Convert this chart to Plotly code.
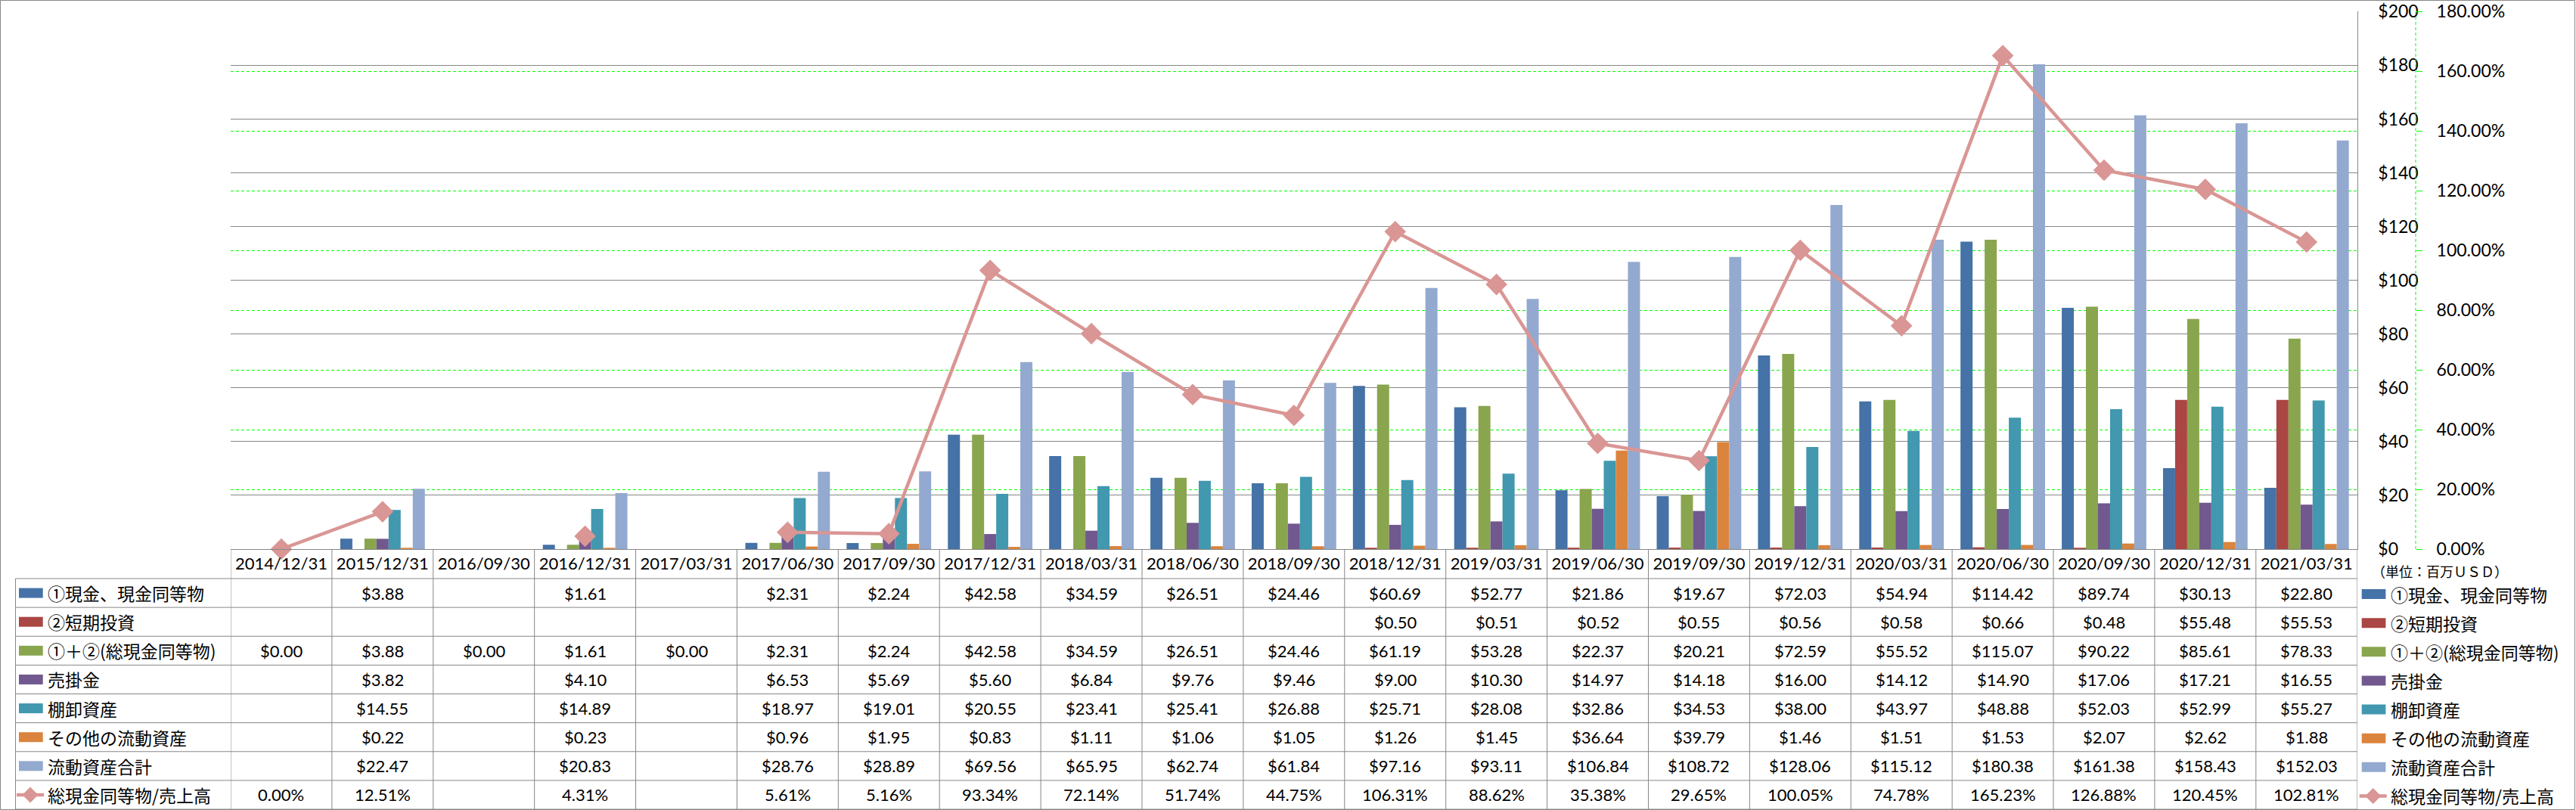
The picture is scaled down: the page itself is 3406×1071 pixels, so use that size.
import plotly.graph_objects as go

W, H = 3406, 1071

dates = ["2014/12/31", "2015/12/31", "2016/09/30", "2016/12/31", "2017/03/31", "2017/06/30",
         "2017/09/30", "2017/12/31", "2018/03/31", "2018/06/30", "2018/09/30", "2018/12/31",
         "2019/03/31", "2019/06/30", "2019/09/30", "2019/12/31", "2020/03/31", "2020/06/30",
         "2020/09/30", "2020/12/31", "2021/03/31"]

cash = [None, 3.88, None, 1.61, None, 2.31, 2.24, 42.58, 34.59, 26.51, 24.46, 60.69, 52.77,
        21.86, 19.67, 72.03, 54.94, 114.42, 89.74, 30.13, 22.80]
short_inv = [None, None, None, None, None, None, None, None, None, None, None, 0.50, 0.51,
             0.52, 0.55, 0.56, 0.58, 0.66, 0.48, 55.48, 55.53]
total_cash = [0.00, 3.88, 0.00, 1.61, 0.00, 2.31, 2.24, 42.58, 34.59, 26.51, 24.46, 61.19, 53.28,
              22.37, 20.21, 72.59, 55.52, 115.07, 90.22, 85.61, 78.33]
receivables = [None, 3.82, None, 4.10, None, 6.53, 5.69, 5.60, 6.84, 9.76, 9.46, 9.00, 10.30,
               14.97, 14.18, 16.00, 14.12, 14.90, 17.06, 17.21, 16.55]
inventory = [None, 14.55, None, 14.89, None, 18.97, 19.01, 20.55, 23.41, 25.41, 26.88, 25.71, 28.08,
             32.86, 34.53, 38.00, 43.97, 48.88, 52.03, 52.99, 55.27]
other_ca = [None, 0.22, None, 0.23, None, 0.96, 1.95, 0.83, 1.11, 1.06, 1.05, 1.26, 1.45,
            36.64, 39.79, 1.46, 1.51, 1.53, 2.07, 2.62, 1.88]
total_ca = [None, 22.47, None, 20.83, None, 28.76, 28.89, 69.56, 65.95, 62.74, 61.84, 97.16, 93.11,
            106.84, 108.72, 128.06, 115.12, 180.38, 161.38, 158.43, 152.03]
ratio_pct = [0.00, 12.51, None, 4.31, None, 5.61, 5.16, 93.34, 72.14, 51.74, 44.75, 106.31, 88.62,
             35.38, 29.65, 100.05, 74.78, 165.23, 126.88, 120.45, 102.81]

bar_names = ["①現金、現金同等物", "②短期投資", "①＋②(総現金同等物)", "売掛金", "棚卸資産",
             "その他の流動資産", "流動資産合計"]
line_name = "総現金同等物/売上高"
bar_series = [cash, short_inv, total_cash, receivables, inventory, other_ca, total_ca]
bar_colors = ["#4572A7", "#AA4643", "#89A54E", "#71588F", "#4198AF", "#DB843D", "#93A9CF"]
line_color = "#D99694"

usd_ticks = list(range(0, 201, 20))
usd_tick_text = ["$" + str(v) for v in usd_ticks]
pct_ticks = [0.0, 0.2, 0.4, 0.6, 0.8, 1.0, 1.2, 1.4, 1.6, 1.8]
unit_label = "（単位：百万ＵＳＤ）"

# ---------------- geometry (pixels) ----------------
PL, PR, PT, PB = 305.0, 3116.7, 15.3, 726.0
Y2_X = 3194.0
ROW_TOP, ROW_H = 765.0, 38.125
TABLE_L = 20.5
GRAY = "#878787"
NUM_FONT = "Lato, Carlito, 'Liberation Sans', sans-serif"
JP_FONT = "'Noto Sans CJK JP', sans-serif"


def px(x):
    return x / W


def py(y):
    return 1 - y / H


fig = go.Figure()
for name, vals, col in zip(bar_names, bar_series, bar_colors):
    fig.add_trace(go.Bar(x=dates, y=vals, name=name, marker=dict(color=col, line=dict(width=0)),
                         yaxis="y"))

fig.add_trace(go.Scatter(
    x=dates, y=[None if v is None else v / 100 for v in ratio_pct], name=line_name,
    yaxis="y2", mode="lines+markers", connectgaps=False, cliponaxis=False,
    line=dict(color=line_color, width=4.5),
    marker=dict(symbol="diamond", size=22, color=line_color, line=dict(width=0)),
))

shapes = []
annotations = []

# outer border
shapes.append(dict(type="rect", xref="paper", yref="paper", x0=px(0.5), x1=px(3404.5),
                   y0=py(0.5), y1=py(1070.5), line=dict(color=GRAY, width=1)))

# secondary axis dashed line
shapes.append(dict(type="line", xref="paper", yref="paper", x0=px(Y2_X), x1=px(Y2_X),
                   y0=py(PB), y1=py(PT), line=dict(color="#00FF00", width=1, dash="4px,3px")))

# table grid: vertical lines per category boundary
for k in range(len(dates) + 1):
    shapes.append(dict(type="line", xref="x", yref="paper", x0=k - 0.5, x1=k - 0.5,
                       y0=py(PB), y1=py(1070), line=dict(color=GRAY, width=1)))
shapes.append(dict(type="line", xref="paper", yref="paper", x0=px(TABLE_L), x1=px(TABLE_L),
                   y0=py(ROW_TOP), y1=py(1070), line=dict(color=GRAY, width=1)))
n_rows = 8
for j in range(n_rows + 1):
    yy = ROW_TOP + ROW_H * j
    shapes.append(dict(type="line", xref="paper", yref="paper", x0=px(TABLE_L), x1=px(PR),
                       y0=py(yy), y1=py(yy), line=dict(color=GRAY, width=1)))

rows = bar_series + [ratio_pct]
row_names = bar_names + [line_name]
for r, vals in enumerate(rows):
    yc = ROW_TOP + ROW_H * (r + 0.5)
    for i, v in enumerate(vals):
        if v is None:
            continue
        txt = f"{v:.2f}%" if r == 7 else f"${v:.2f}"
        annotations.append(dict(x=i, y=py(yc), xref="x", yref="paper", text=txt, showarrow=False,
                                xanchor="center", yanchor="middle",
                                font=dict(family=NUM_FONT, size=22, color="#000000")))
    # legend keys + labels (left and right)
    for kx, tx, dy in ((25.0, 61.0, 0.0), (3122.7, 3159.0, 1.5)):
        cy = yc + dy
        if r < 7:
            shapes.append(dict(type="rect", xref="paper", yref="paper", x0=px(kx), x1=px(kx + 31.7),
                               y0=py(cy - 6.5), y1=py(cy + 6.5), line=dict(width=0),
                               fillcolor=bar_colors[r]))
        else:
            shapes.append(dict(type="line", xref="paper", yref="paper", x0=px(kx - 3), x1=px(kx + 33),
                               y0=py(cy), y1=py(cy), line=dict(color=line_color, width=4.5)))
            cx = kx + 15
            d = 10.5
            path = (f"M {px(cx - d)},{py(cy)} L {px(cx)},{py(cy - d)} L {px(cx + d)},{py(cy)} "
                    f"L {px(cx)},{py(cy + d)} Z")
            shapes.append(dict(type="path", xref="paper", yref="paper", path=path,
                               fillcolor=line_color, line=dict(width=0)))
        annotations.append(dict(x=px(tx), y=py(cy), xref="paper", yref="paper", text=row_names[r],
                                showarrow=False, xanchor="left", yanchor="middle",
                                font=dict(family=JP_FONT, size=23, color="#000000")))

annotations.append(dict(x=px(3134), y=py(755), xref="paper", yref="paper", text=unit_label,
                        showarrow=False, xanchor="left", yanchor="middle",
                        font=dict(family=JP_FONT, size=18, color="#000000")))

fig.update_layout(
    width=W, height=H,
    margin=dict(l=0, r=0, t=0, b=0),
    paper_bgcolor="white", plot_bgcolor="white",
    barmode="group", bargap=0.165, bargroupgap=0,
    showlegend=False,
    shapes=shapes, annotations=annotations,
    xaxis=dict(domain=[px(PL), px(PR)], type="category", range=[-0.5, len(dates) - 0.5],
               showline=True, linecolor=GRAY, linewidth=1, ticks="", tickangle=0,
               tickfont=dict(family=NUM_FONT, size=22, color="#000000"),
               showgrid=False, zeroline=False, automargin=False, fixedrange=True),
    yaxis=dict(domain=[py(PB), py(PT)], range=[0, 200], tickmode="array", tickvals=usd_ticks,
               ticktext=usd_tick_text, side="right", anchor="x", showline=True, linecolor=GRAY,
               linewidth=1, ticks="", ticklabelstandoff=22, showgrid=True, gridcolor=GRAY,
               gridwidth=1, zeroline=False, automargin=False,
               tickfont=dict(family=NUM_FONT, size=23, color="#000000")),
    yaxis2=dict(overlaying="y", side="right", anchor="free", position=px(Y2_X), range=[0, 1.8],
                tickvals=pct_ticks, tickformat=".2%", showline=False, ticks="outside",
                ticklen=8, tickcolor="#00FF00", tickwidth=1, ticklabelstandoff=14,
                showgrid=True, gridcolor="#00FF00", griddash="4px,3px", gridwidth=1,
                zeroline=False, automargin=False,
                tickfont=dict(family=NUM_FONT, size=23, color="#000000")),
)

fig.write_html("out.html")
